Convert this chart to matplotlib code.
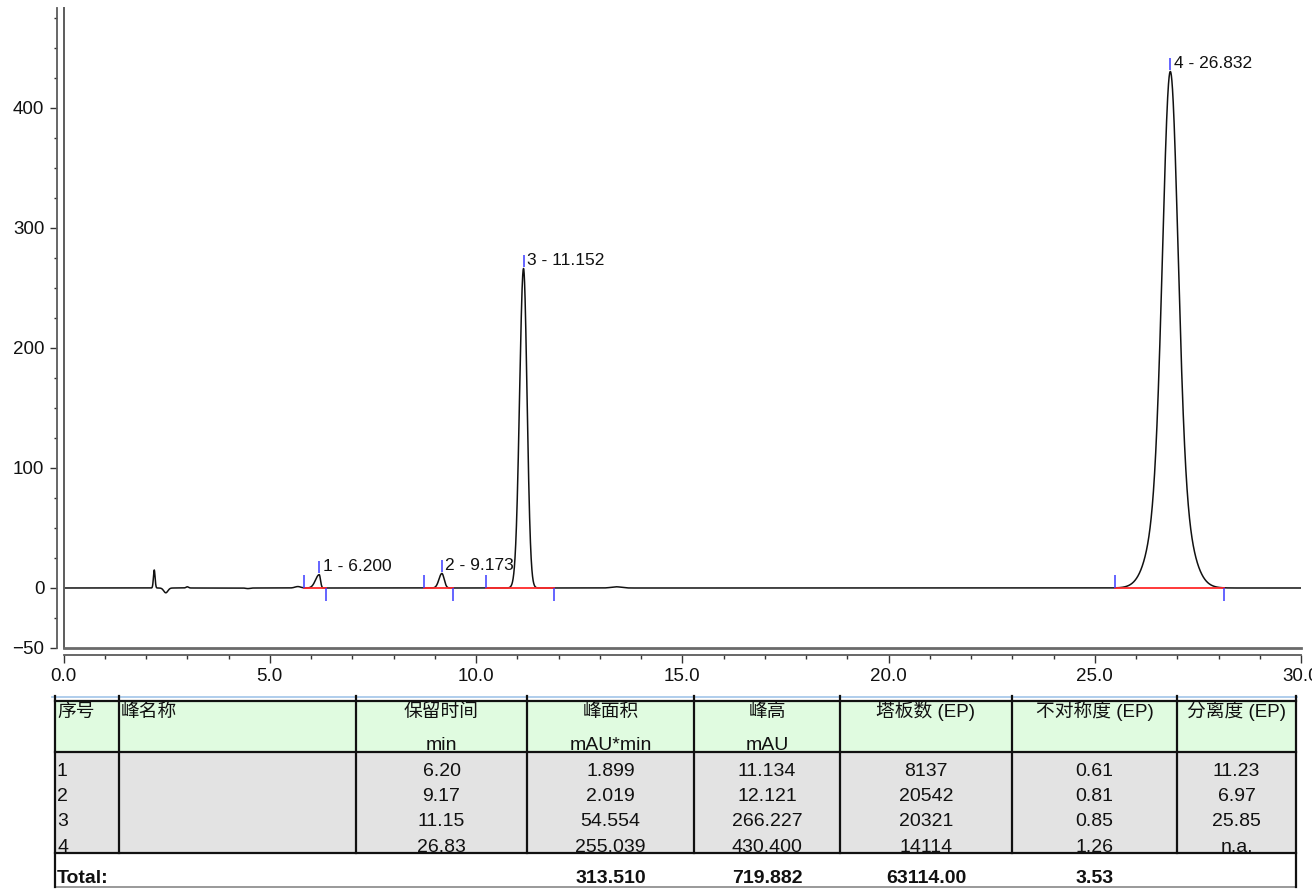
import matplotlib.pyplot as plt
import numpy as np
from matplotlib.patches import Rectangle
from matplotlib.ticker import FixedLocator, MultipleLocator, FormatStrFormatter

plt.rcParams['font.family'] = ['Liberation Sans', 'Noto Sans CJK SC']

W, H = 1312, 889

# peaks (retention time / height from the peak table, widths)
peak_no = [1, 2, 3, 4]
peak_rt = [6.200, 9.173, 11.152, 26.832]
peak_h = [11.134, 12.121, 266.227, 430.400]
sig_left = [0.09, 0.07, 0.095, 0.18]
sig_right = [0.03, 0.055, 0.085, 0.18]
tail_frac = [0.0, 0.0, 0.0, 0.25]
tail_sig = [0.1, 0.1, 0.1, 0.36]
int_start = [5.82, 8.75, 10.25, 25.49]
int_end = [6.37, 9.45, 11.90, 28.13]

# small disturbances on the baseline
bump_t = [2.20, 2.48, 3.00, 4.47, 5.68, 13.40]
bump_h = [15.0, -4.0, 1.0, -0.5, 1.2, 1.0]
bump_w = [0.02, 0.05, 0.03, 0.05, 0.07, 0.12]

# peak table
col_heads = ['序号', '峰名称', '保留时间', '峰面积', '峰高', '塔板数 (EP)', '不对称度 (EP)', '分离度 (EP)']
col_units = ['', '', 'min', 'mAU*min', 'mAU', '', '', '']
ret_time = [6.20, 9.17, 11.15, 26.83]
area = [1.899, 2.019, 54.554, 255.039]
height = [11.134, 12.121, 266.227, 430.400]
plates = [8137, 20542, 20321, 14114]
asym = [0.61, 0.81, 0.85, 1.26]
resol = [11.23, 6.97, 25.85, None]
total_area = 313.510
total_height = 719.882
total_plates = 63114.00
total_asym = 3.53

# --- build trace ---
t = np.linspace(0, 30, 12001)
sig = np.zeros_like(t)
for tt, hh, ww in zip(bump_t, bump_h, bump_w):
    sig += hh * np.exp(-0.5 * ((t - tt) / ww) ** 2)
for rt, h, sl, sr, f, ts in zip(peak_rt, peak_h, sig_left, sig_right, tail_frac, tail_sig):
    dx = t - rt
    s = np.where(dx < 0, sl, sr)
    sig += h * ((1 - f) * np.exp(-0.5 * (dx / s) ** 2) + f * np.exp(-0.5 * (dx / ts) ** 2))

fig = plt.figure(figsize=(W / 100, H / 100), dpi=100)
ax = fig.add_axes([63.5 / W, 1 - 648 / H, (1301 - 63.5) / W, 640 / H])

ax.plot(t, sig, color='#111111', lw=1.1, zorder=2)

blue = '#3a3aff'
red = '#ff2a2a'
for no, rt, h, s0, s1 in zip(peak_no, peak_rt, peak_h, int_start, int_end):
    ax.plot([s0, s1], [0, 0], color=red, lw=1.3, zorder=3)
    ax.vlines(s0, 0, 11, color=blue, lw=1.1, zorder=3)
    ax.vlines(s1, -11, 0, color=blue, lw=1.1, zorder=3)
    ax.vlines(rt, h + 1.5, h + 11.5, color=blue, lw=1.1, zorder=3)
    ax.annotate(f'{no} - {rt:.3f}', xy=(rt, h + 7), xytext=(2.5, 0),
                textcoords='offset points', ha='left', va='center',
                fontsize=12.5, color='#111111')

ax.set_xlim(0, 30)
ax.set_ylim(-50, 483.3)

gray = '#5c5c5c'
for side in ['top', 'right']:
    ax.spines[side].set_visible(False)
ax.spines['left'].set_position(('outward', 4.7))
ax.spines['bottom'].set_position(('outward', 5))
for side in ['left', 'bottom']:
    ax.spines[side].set_color(gray)
    ax.spines[side].set_linewidth(1.3)
ax.axvline(0, color=gray, lw=1.4, clip_on=False)
ax.axhline(-50, color='#6a6a6a', lw=2.0, clip_on=False)

ax.yaxis.set_major_locator(FixedLocator([-50, 0, 100, 200, 300, 400]))
ax.yaxis.set_minor_locator(MultipleLocator(25))
ax.xaxis.set_major_locator(MultipleLocator(5))
ax.xaxis.set_minor_locator(MultipleLocator(1))
ax.xaxis.set_major_formatter(FormatStrFormatter('%.1f'))
ax.tick_params(axis='both', which='both', direction='out', color='#333333', width=1.0,
               labelcolor='#111111')
ax.tick_params(axis='y', which='major', length=5, pad=4, labelsize=13.5)
ax.tick_params(axis='y', which='minor', length=2.4)
ax.tick_params(axis='x', which='major', length=5.8, pad=3.5, labelsize=13.5)
ax.tick_params(axis='x', which='minor', length=2.9)

# --- peak table (pixel coordinates) ---
tab = fig.add_axes([0, 0, 1, 1])
tab.set_xlim(0, W)
tab.set_ylim(H, 0)
tab.axis('off')
tab.patch.set_visible(False)

cols = [55, 119, 356, 527, 694, 840, 1012, 1177, 1296]
y_top, y_head, y_data, y_bot = 701, 752, 853, 887
row_h = (y_data - y_head) / 4

tab.add_patch(Rectangle((cols[0], y_top), cols[-1] - cols[0], y_head - y_top,
                        facecolor='#e0fbe0', edgecolor='none'))
tab.add_patch(Rectangle((cols[0], y_head), cols[-1] - cols[0], y_data - y_head,
                        facecolor='#e3e3e3', edgecolor='none'))
tab.plot([cols[0] - 3, cols[-1] + 1], [697, 697], color='#a9c9ea', lw=1.3)
for yy in [y_top, y_head, y_data]:
    tab.plot([cols[0], cols[-1]], [yy, yy], color='#111111', lw=1.6)
tab.plot([cols[0], cols[-1]], [y_bot, y_bot], color='#888888', lw=1.2)
for i, xx in enumerate(cols):
    yb = y_bot if i in (0, len(cols) - 1) else y_data
    tab.plot([xx, xx], [696, yb], color='#111111', lw=1.6)

fs = 14
fs_head = 13.5
for i, (hd, un) in enumerate(zip(col_heads, col_units)):
    if i < 2:
        tab.text(cols[i] + 2, 717, hd, ha='left', va='baseline', fontsize=fs_head, color='#111111')
    else:
        xc = (cols[i] + cols[i + 1]) / 2
        tab.text(xc, 717, hd, ha='center', va='baseline', fontsize=fs_head, color='#111111')
        if un:
            tab.text(xc, 750, un, ha='center', va='baseline', fontsize=fs, color='#111111')

for r in range(4):
    yb = y_head + row_h * (r + 1) - 1.5
    cells = [f'{ret_time[r]:.2f}', f'{area[r]:.3f}', f'{height[r]:.3f}', f'{plates[r]:d}',
             f'{asym[r]:.2f}', 'n.a.' if resol[r] is None else f'{resol[r]:.2f}']
    tab.text(cols[0] + 2, yb, str(peak_no[r]), ha='left', va='baseline', fontsize=fs, color='#111111')
    for j, txt in enumerate(cells):
        xc = (cols[j + 2] + cols[j + 3]) / 2
        tab.text(xc, yb, txt, ha='center', va='baseline', fontsize=fs, color='#111111')

tab.text(cols[0] + 2, 883, 'Total:', ha='left', va='baseline', fontsize=fs,
         fontweight='bold', color='#111111')
tot = [f'{total_area:.3f}', f'{total_height:.3f}', f'{total_plates:.2f}', f'{total_asym:.2f}']
for j, txt in enumerate(tot):
    xc = (cols[j + 3] + cols[j + 4]) / 2
    tab.text(xc, 883, txt, ha='center', va='baseline', fontsize=fs, fontweight='bold', color='#111111')

fig.savefig('out.png', dpi=100)
